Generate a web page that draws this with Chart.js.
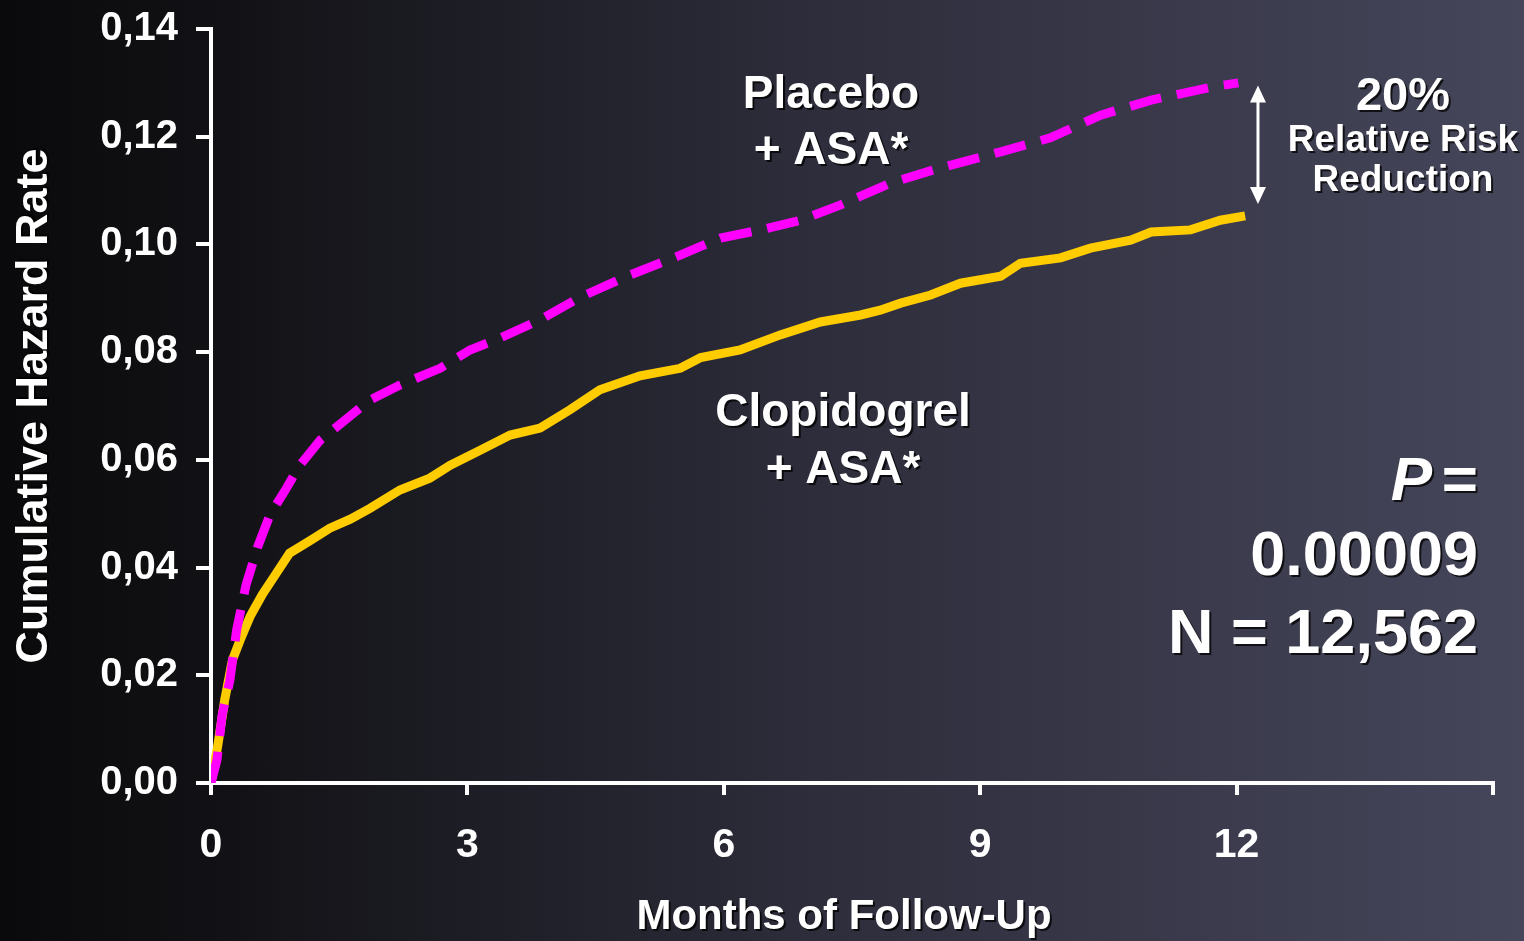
<!DOCTYPE html>
<html>
<head>
<meta charset="utf-8">
<script src="https://cdn.jsdelivr.net/npm/chart.js@4.4.0/dist/chart.umd.min.js"></script>
<style>
  html, body { margin: 0; padding: 0; }
  body {
    width: 1524px; height: 941px; overflow: hidden;
    background: linear-gradient(to right, #0a0a0c 0%, #121216 15%, #2c2c3a 52%, #46465b 100%);
  }
  #wrap { width: 1524px; height: 941px; }
</style>
</head>
<body>
<div id="wrap"><canvas id="chart"></canvas></div>
<script>
// Clopidogrel + ASA (linha amarela)
const clopMonths = [0, 0.08, 0.16, 0.25, 0.34, 0.46, 0.6, 0.75, 0.92, 1.16, 1.39, 1.63, 1.86, 2.21, 2.56, 2.8, 3.15, 3.5, 3.85, 4.2, 4.55, 5.02, 5.49, 5.73, 6.19, 6.66, 7.13, 7.6, 7.83, 8.07, 8.42, 8.77, 9.24, 9.47, 9.94, 10.29, 10.76, 11.0, 11.46, 11.81, 12.1];
const clopRate = [0, 0.007, 0.0154, 0.0228, 0.0265, 0.031, 0.035, 0.0386, 0.0427, 0.045, 0.0473, 0.049, 0.051, 0.0544, 0.0566, 0.059, 0.0618, 0.0646, 0.0659, 0.0693, 0.073, 0.0756, 0.077, 0.079, 0.0804, 0.0832, 0.0856, 0.0869, 0.0878, 0.0891, 0.0906, 0.0928, 0.0941, 0.0965, 0.0975, 0.0993, 0.1008, 0.1023, 0.1027, 0.1045, 0.1053];

// Placebo + ASA (linha magenta tracejada)
const placMonths = [0, 0.07, 0.13, 0.22, 0.3, 0.41, 0.55, 0.69, 0.87, 1.04, 1.28, 1.57, 1.86, 2.21, 2.68, 3.03, 3.38, 3.85, 4.32, 4.9, 5.49, 5.96, 6.43, 6.9, 7.36, 7.95, 8.53, 9.24, 9.82, 10.41, 11.0, 11.7, 12.02];
const placRate = [0, 0.0043, 0.0126, 0.019, 0.0284, 0.0368, 0.044, 0.0498, 0.0544, 0.059, 0.0637, 0.0674, 0.0711, 0.0739, 0.077, 0.0804, 0.0826, 0.086, 0.0902, 0.0943, 0.098, 0.1012, 0.1027, 0.1045, 0.1073, 0.1114, 0.1142, 0.1172, 0.1198, 0.124, 0.1268, 0.1292, 0.13];

const xTicks = [0, 3, 6, 9, 12, 15];
const yTicks = [0, 0.02, 0.04, 0.06, 0.08, 0.10, 0.12, 0.14];

const FONT = "'Liberation Sans', Arial, sans-serif";

function toPoints(xs, ys) {
  return xs.map((x, i) => ({ x: x, y: ys[i] }));
}

// Texto com sombra, como no slide original
function shadowText(ctx, text, x, y, size, align, italic) {
  ctx.save();
  ctx.font = (italic ? "italic " : "") + "bold " + size + "px " + FONT;
  ctx.textAlign = align || "center";
  ctx.textBaseline = "middle";
  ctx.fillStyle = "rgba(0,0,0,0.75)";
  ctx.fillText(text, x + 2, y + 2);
  ctx.fillStyle = "#ffffff";
  ctx.fillText(text, x, y);
  ctx.restore();
}

const annotations = {
  id: "annotations",
  afterDraw(chart) {
    const ctx = chart.ctx;
    const xs = chart.scales.x;
    const ys = chart.scales.y;

    // títulos dos eixos
    shadowText(ctx, "Months of Follow-Up", 844, 917, 42);
    ctx.save();
    ctx.translate(35, 406);
    ctx.rotate(-Math.PI / 2);
    shadowText(ctx, "Cumulative Hazard Rate", 0, 0, 45);
    ctx.restore();

    // rótulos das curvas
    shadowText(ctx, "Placebo", 831, 95, 46);
    shadowText(ctx, "+ ASA*", 831, 151, 46);
    shadowText(ctx, "Clopidogrel", 843, 413, 46);
    shadowText(ctx, "+ ASA*", 843, 470, 46);

    // redução de risco
    shadowText(ctx, "20%", 1403, 97, 47);
    shadowText(ctx, "Relative Risk", 1403, 141, 37);
    shadowText(ctx, "Reduction", 1403, 181, 37);

    shadowText(ctx, "P", 1432, 483, 62, "right", true);
    shadowText(ctx, " =", 1478, 483, 62, "right");
    shadowText(ctx, "0.00009", 1478, 558, 63, "right");
    shadowText(ctx, "N = 12,562", 1478, 636, 63, "right");

    // seta dupla entre as curvas
    const ax = xs.getPixelForValue(12.25);
    const top = ys.getPixelForValue(0.1295);
    const bot = ys.getPixelForValue(0.1075);
    ctx.save();
    ctx.strokeStyle = "#ffffff";
    ctx.fillStyle = "#ffffff";
    ctx.lineWidth = 3;
    ctx.beginPath();
    ctx.moveTo(ax, top + 10);
    ctx.lineTo(ax, bot - 10);
    ctx.stroke();
    ctx.beginPath();
    ctx.moveTo(ax, top);
    ctx.lineTo(ax - 8, top + 17);
    ctx.lineTo(ax + 8, top + 17);
    ctx.closePath();
    ctx.fill();
    ctx.beginPath();
    ctx.moveTo(ax, bot);
    ctx.lineTo(ax - 8, bot - 17);
    ctx.lineTo(ax + 8, bot - 17);
    ctx.closePath();
    ctx.fill();
    ctx.restore();
  },
};

new Chart(document.getElementById("chart"), {
  type: "line",
  data: {
    datasets: [
      {
        label: "Placebo + ASA*",
        data: toPoints(placMonths, placRate),
        borderColor: "#ff00ff",
        borderWidth: 9,
        borderDash: [32, 16],
        pointRadius: 0,
        tension: 0,
      },
      {
        label: "Clopidogrel + ASA*",
        data: toPoints(clopMonths, clopRate),
        borderColor: "#ffcc00",
        borderWidth: 9,
        pointRadius: 0,
        tension: 0,
      },
    ],
  },
  options: {
    responsive: true,
    maintainAspectRatio: false,
    animation: false,
    layout: { padding: { top: 29, right: 31, left: 0, bottom: 0 } },
    plugins: { legend: { display: false }, tooltip: { enabled: false } },
    scales: {
      x: {
        type: "linear",
        min: 0,
        max: 15,
        afterFit: (s) => {
          s.height = 158;
          s.paddingLeft = 0;
          s.paddingRight = 0;
        },
        afterBuildTicks: (s) => { s.ticks = xTicks.map((v) => ({ value: v })); },
        border: { color: "#ffffff", width: 4 },
        grid: { drawOnChartArea: false, color: "#ffffff", lineWidth: 4, tickLength: 12 },
        ticks: {
          color: "#ffffff",
          padding: 26,
          font: { family: FONT, size: 41, weight: "bold" },
          callback: (v) => (v === 15 ? "" : String(v)),
        },
      },
      y: {
        min: 0,
        max: 0.14,
        afterFit: (s) => {
          s.width = 211;
          s.paddingTop = 0;
          s.paddingBottom = 0;
        },
        afterBuildTicks: (s) => { s.ticks = yTicks.map((v) => ({ value: v })); },
        border: { color: "#ffffff", width: 4 },
        grid: { drawOnChartArea: false, color: "#ffffff", lineWidth: 4, tickLength: 15 },
        ticks: {
          color: "#ffffff",
          padding: 18,
          font: { family: FONT, size: 40, weight: "bold" },
          callback: (v) => v.toFixed(2).replace(".", ","),
        },
      },
    },
  },
  plugins: [annotations],
});
</script>
</body>
</html>
